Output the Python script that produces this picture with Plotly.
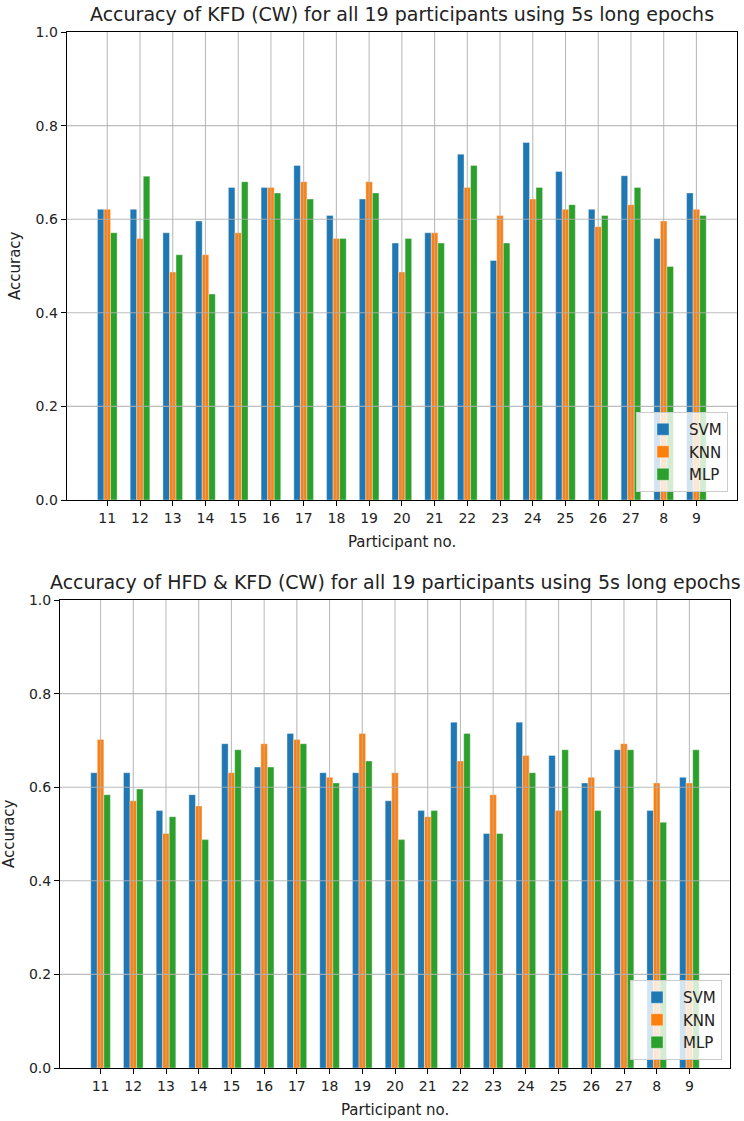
import plotly.graph_objects as go

participants = ["11", "12", "13", "14", "15", "16", "17", "18", "19", "20",
                "21", "22", "23", "24", "25", "26", "27", "8", "9"]

kfd_svm = [0.621, 0.621, 0.571, 0.596, 0.668, 0.668, 0.715, 0.608, 0.643, 0.549,
           0.571, 0.739, 0.512, 0.764, 0.702, 0.621, 0.693, 0.559, 0.656]
kfd_knn = [0.621, 0.559, 0.487, 0.524, 0.571, 0.668, 0.680, 0.559, 0.680, 0.487,
           0.571, 0.668, 0.608, 0.643, 0.621, 0.584, 0.631, 0.596, 0.621]
kfd_mlp = [0.571, 0.692, 0.524, 0.440, 0.680, 0.656, 0.643, 0.559, 0.656, 0.559,
           0.549, 0.715, 0.549, 0.668, 0.631, 0.608, 0.668, 0.499, 0.608]

hk_svm = [0.631, 0.631, 0.550, 0.584, 0.693, 0.643, 0.715, 0.631, 0.631, 0.571,
          0.550, 0.739, 0.501, 0.739, 0.668, 0.609, 0.680, 0.550, 0.621]
hk_knn = [0.702, 0.571, 0.501, 0.560, 0.631, 0.693, 0.702, 0.621, 0.715, 0.631,
          0.537, 0.656, 0.584, 0.668, 0.550, 0.621, 0.693, 0.609, 0.609]
hk_mlp = [0.584, 0.596, 0.537, 0.488, 0.680, 0.643, 0.693, 0.609, 0.656, 0.488,
          0.550, 0.715, 0.501, 0.631, 0.680, 0.550, 0.680, 0.525, 0.680]

models = ["SVM", "KNN", "MLP"]
colors = ["#1f77b4", "#ff7f0e", "#2ca02c"]
y_ticks = [0.0, 0.2, 0.4, 0.6, 0.8, 1.0]

title_top = "Accuracy of KFD (CW) for all 19 participants using 5s long epochs"
title_bot = "Accuracy of HFD & KFD (CW) for all 19 participants using 5s long epochs"

W, H = 744, 1121
FONT = "DejaVu Sans"
TXT = "#222222"
idx = list(range(len(participants)))

fig = go.Figure()

def px_x(p):
    return p / W

def px_y(p):
    return 1 - p / H

panels = [
    dict(data=[kfd_svm, kfd_knn, kfd_mlp], xa="x", ya="y", legend="legend",
         xdom=[px_x(66.7), px_x(737)], ydom=[px_y(500), px_y(32)], title=title_top,
         top=32, left=66.7, bottom=500, ylab=15),
    dict(data=[hk_svm, hk_knn, hk_mlp], xa="x2", ya="y2", legend="legend2",
         xdom=[px_x(60), px_x(730)], ydom=[px_y(1068), px_y(600)], title=title_bot,
         top=600, left=60, bottom=1068, ylab=9),
]

shapes = []
annotations = []
for p in panels:
    for m, c, vals in zip(models, colors, p["data"]):
        fig.add_trace(go.Bar(
            x=idx, y=vals, name=m,
            marker=dict(color=c, line=dict(width=0.6, color="rgba(255,255,255,0.6)")),
            xaxis=p["xa"], yaxis=p["ya"], legend=p["legend"],
        ))
    # grid lines drawn above the bars, as in the reference
    for i in idx:
        shapes.append(dict(type="line", xref=p["xa"], yref=p["ya"] + " domain",
                           x0=i, x1=i, y0=0, y1=1, layer="above",
                           line=dict(color="rgba(176,176,176,0.85)", width=1.1)))
    for t in y_ticks[1:-1]:
        shapes.append(dict(type="line", xref=p["xa"] + " domain", yref=p["ya"],
                           x0=0, x1=1, y0=t, y1=t, layer="above",
                           line=dict(color="rgba(176,176,176,0.85)", width=1.1)))
    # title
    annotations.append(dict(
        text=p["title"], xref="paper", yref="paper",
        x=(p["xdom"][0] + p["xdom"][1]) / 2, y=px_y(p["top"] - 5),
        xanchor="center", yanchor="bottom", showarrow=False,
        font=dict(family=FONT, size=19, color=TXT),
    ))
    # axis labels
    annotations.append(dict(
        text="Participant no.", xref="paper", yref="paper",
        x=(p["xdom"][0] + p["xdom"][1]) / 2, y=px_y(p["bottom"] + 31),
        xanchor="center", yanchor="top", showarrow=False,
        font=dict(family=FONT, size=15, color=TXT),
    ))
    annotations.append(dict(
        text="Accuracy", xref="paper", yref="paper", textangle=-90,
        x=px_x(p["ylab"]), y=(p["ydom"][0] + p["ydom"][1]) / 2,
        xanchor="center", yanchor="middle", showarrow=False,
        font=dict(family=FONT, size=15, color=TXT),
    ))

axis_common = dict(
    showgrid=False, zeroline=False, showline=True, mirror=True,
    linecolor="black", linewidth=1.1, ticks="outside", ticklen=5,
    tickwidth=1.1, tickcolor="black", automargin=False,
    tickfont=dict(family=FONT, size=14, color=TXT),
)

def xaxis(p, anchor):
    return dict(axis_common, domain=p["xdom"], anchor=anchor,
                range=[-1.24, len(participants) - 1 + 1.24],
                tickmode="array", tickvals=idx, ticktext=participants)

def yaxis(p, anchor):
    return dict(axis_common, domain=p["ydom"], anchor=anchor, range=[0, 1],
                tickmode="array", tickvals=y_ticks,
                ticktext=[f"{t:.1f}" for t in y_ticks])

legend_common = dict(
    bgcolor="rgba(255,255,255,0.8)", bordercolor="#cccccc", borderwidth=1,
    font=dict(family=FONT, size=15, color=TXT), xanchor="right",
    yanchor="bottom", tracegroupgap=2, itemwidth=42,
)

fig.update_layout(
    width=W, height=H, margin=dict(l=0, r=0, t=0, b=0, autoexpand=False),
    paper_bgcolor="white", plot_bgcolor="white",
    barmode="group", bargap=0.4, bargroupgap=0,
    font=dict(family=FONT, size=14, color=TXT),
    xaxis=xaxis(panels[0], "y"), yaxis=yaxis(panels[0], "x"),
    xaxis2=xaxis(panels[1], "y2"), yaxis2=yaxis(panels[1], "x2"),
    legend=dict(legend_common, x=px_x(728), y=px_y(492)),
    legend2=dict(legend_common, x=px_x(722), y=px_y(1060)),
    shapes=shapes, annotations=annotations,
)

fig.write_html("out.html", config={"displayModeBar": False},
               post_script="document.body.style.margin='0';")
